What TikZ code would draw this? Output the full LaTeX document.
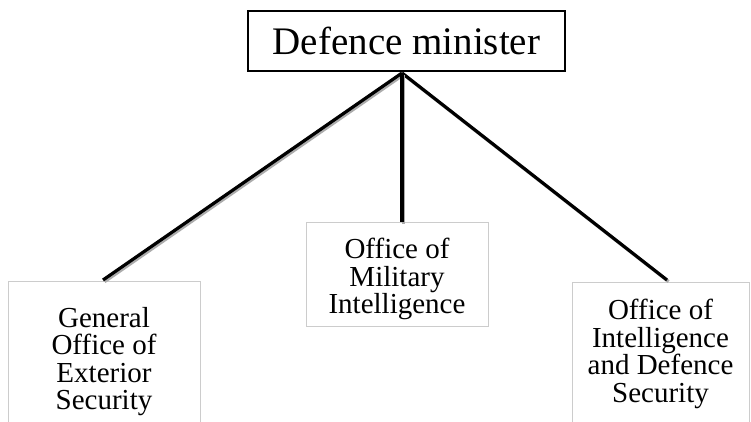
\documentclass[tikz,border=0pt]{standalone}
\usepackage{fontspec}
\setmainfont{Liberation Serif}
\tikzset{
  topbox/.style={draw, line width=2.4pt, minimum width=317pt, minimum height=60pt,
    font=\fontsize{39}{42}\selectfont},
  unitbox/.style={draw=gray!40, line width=0.8pt, align=center, inner sep=0pt,
    anchor=north, font=\fontsize{29}{27.5}\selectfont},
  link/.style={line width=3.2pt,
    preaction={draw=gray!65, line width=3.2pt, transform canvas={shift={(1.6pt,-1.6pt)}}}}
}
\begin{document}
\begin{tikzpicture}[x=1pt,y=-1pt]
	\clip (0,0) rectangle (751,422);
	\fill[white] (0,0) rectangle (751,422);
	% head of the ministry
	\node[topbox] (minister) at (406.5,41) {Defence minister};
	% the three offices below
	\node[unitbox, minimum width=192pt, minimum height=160pt] (gdse) at (104,281) {General\\Office of\\Exterior\\Security};
	\node[unitbox, minimum width=182pt, minimum height=104pt] (omi) at (397,222) {\rule{0pt}{30pt}Office of\\Military\\Intelligence};
	\node[unitbox, minimum width=177pt, minimum height=160pt] (oids) at (660.5,282) {Office of\\Intelligence\\and Defence\\Security\rule[-23pt]{0pt}{23pt}};
	\coordinate (apex) at (402,73);
	\coordinate (gdsetop) at (103,280);
	\coordinate (omitop) at (402,222);
	\coordinate (oidstop) at (667,280);
	\draw[link] (apex) -- (gdsetop);
	\draw[link] (apex) -- (oidstop);
	\draw[link] (apex) -- (omitop);
\end{tikzpicture}
\end{document}
